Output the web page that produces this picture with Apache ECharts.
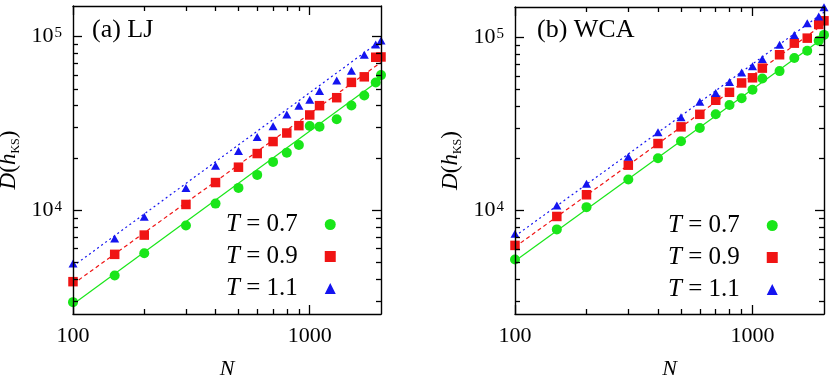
<!DOCTYPE html>
<html>
<head>
<meta charset="utf-8">
<script src="https://cdn.jsdelivr.net/npm/echarts@6/dist/echarts.min.js"></script>
<style>html,body{margin:0;padding:0;background:#fff}#c{width:830px;height:376px}</style>
</head>
<body>
<div id="c"></div>
<script>
// ---- data ----
const N = [100,150,200,300,400,500,600,700,800,900,1000,1100,1300,1500,1700,1900,2000];
const seriesNames = ['T = 0.7','T = 0.9','T = 1.1'];
const ljT07 = [2950,4200,5640,8160,10900,13430,15960,18960,21440,23720,30530,30270,33350,40100,45800,54400,59970];
const ljT09 = [3870,5560,7180,10780,14420,17670,21180,24830,27820,30670,35340,39980,44440,54440,58620,76000,76300];
const ljT11 = [4930,6870,9160,13430,18000,21900,26350,30420,35500,39980,43300,48550,55900,63500,78500,89900,94800];
const wcaT07 = [5210,7770,10450,15100,20050,25100,29980,35950,40740,44500,49900,57980,63900,76000,83800,95700,103500];
const wcaT09 = [6280,9230,12320,18270,24370,30420,35950,43350,48200,54580,58460,66500,79430,92700,99100,118900,124800];
const wcaT11 = [7330,10690,14260,20420,28300,34520,42540,47750,55210,62800,68100,75000,90800,103500,121000,132000,149600];
// power-law fit lines (end points)
const fitN = [100, 2000];
const ljFit07 = [2870, 57000];
const ljFit09 = [3750, 71000];
const ljFit11 = [4750, 95000];
const wcaFit07 = [5100, 100000];
const wcaFit09 = [6150, 120000];
const wcaFit11 = [7100, 140000];
const panelLabels = ['(a) LJ', '(b) WCA'];
const xRange = [100, 2000];
const yRange = [2520, 150000];
const xMajorTicks = [100, 1000];
const yMajorTicks = [10000, 100000];
const xMinorTicks = [200,300,400,500,600,700,800,900];
const yMinorTicks = [3000,4000,5000,6000,7000,8000,9000,20000,30000,40000,50000,60000,70000,80000,90000];

// ---- styles ----
const FONT = 'Liberation Serif';
const colors = ['#19e619', '#f01414', '#1414f0'];
const symbols = ['circle', 'rect', 'triangle'];
const symSizes = [10, 9.5, [9, 8]];
const lineTypes = ['solid', [4, 3], [2, 3]];

function zip(xs, ys) { return xs.map((x, i) => [x, ys[i]]); }

const grids = [
  { left: 73, top: 6, width: 308, height: 308, outerBoundsMode: 'none', containLabel: false },
  { left: 515, top: 7, width: 309, height: 307, outerBoundsMode: 'none', containLabel: false }
];

const xAxes = [], yAxes = [], series = [], titles = [], legends = [];
const axisLineStyle = { color: '#000', width: 1.4 };
const tickStyle = { color: '#000', width: 1.3 };

// per grid: 4 x axes (bottom major, top major, bottom minor, top minor), same for y
grids.forEach((g, gi) => {
  [['bottom', true], ['top', true], ['bottom', false], ['top', false]].forEach(([pos, major], j) => {
    const main = (j === 0);
    xAxes.push({
      type: 'log', logBase: 10, gridIndex: gi, position: pos,
      min: xRange[0], max: xRange[1],
      axisLine: { show: true, lineStyle: major ? axisLineStyle : { color: '#000', width: 0.01, opacity: 0 } },
      axisTick: { show: true, inside: true, length: major ? 9 : 5, customValues: major ? xMajorTicks : xMinorTicks, lineStyle: tickStyle },
      minorTick: { show: false },
      splitLine: { show: false }, minorSplitLine: { show: false },
      axisLabel: main ? {
        show: true, margin: 11, fontFamily: FONT, fontSize: 22, color: '#000',
        customValues: xMajorTicks,
        formatter: v => String(Math.round(v))
      } : { show: false },
      name: main ? 'N' : '',
      nameLocation: 'middle', nameGap: 44,
      nameTextStyle: { fontFamily: FONT, fontStyle: 'italic', fontSize: 22, color: '#000' },
      z: 10
    });
  });
  [['left', true], ['right', true], ['left', false], ['right', false]].forEach(([pos, major], j) => {
    const main = (j === 0);
    yAxes.push({
      type: 'log', logBase: 10, gridIndex: gi, position: pos,
      min: yRange[0], max: yRange[1],
      axisLine: { show: true, lineStyle: major ? axisLineStyle : { color: '#000', width: 0.01, opacity: 0 } },
      axisTick: { show: true, inside: true, length: major ? 9 : 5, customValues: major ? yMajorTicks : yMinorTicks, lineStyle: tickStyle },
      minorTick: { show: false },
      splitLine: { show: false }, minorSplitLine: { show: false },
      axisLabel: main ? {
        show: true, margin: 11, color: '#000', fontFamily: FONT,
        customValues: yMajorTicks,
        formatter: v => '{b|10}{s|' + Math.round(Math.log10(v)) + '}',
        rich: {
          b: { fontFamily: FONT, fontSize: 22, color: '#000', lineHeight: 22, verticalAlign: 'bottom' },
          s: { fontFamily: FONT, fontSize: 15, color: '#000', lineHeight: 22, verticalAlign: 'top', padding: [0, 0, 0, 1] }
        }
      } : { show: false },
      name: main ? '{it|D}{rm|(}{it|h}{sub|KS}{rm|)}' : '',
      nameLocation: 'middle', nameGap: 51, nameRotate: 90,
      nameTextStyle: {
        fontFamily: FONT,
        rich: {
          it: { fontFamily: FONT, fontStyle: 'italic', fontSize: 23, color: '#000', lineHeight: 26, verticalAlign: 'middle' },
          rm: { fontFamily: FONT, fontSize: 23, color: '#000', lineHeight: 26, verticalAlign: 'middle' },
          sub: { fontFamily: FONT, fontSize: 12, color: '#000', lineHeight: 26, verticalAlign: 'bottom' }
        }
      },
      z: 10
    });
  });
});

const panelData = [
  { vals: [ljT07, ljT09, ljT11], fits: [ljFit07, ljFit09, ljFit11] },
  { vals: [wcaT07, wcaT09, wcaT11], fits: [wcaFit07, wcaFit09, wcaFit11] }
];

panelData.forEach((p, gi) => {
  p.fits.forEach((f, k) => {
    series.push({
      type: 'line', name: 'fit' + gi + k, xAxisIndex: gi * 4, yAxisIndex: gi * 4,
      data: zip(fitN, f), showSymbol: false, symbol: 'none', silent: true,
      lineStyle: { color: colors[k], width: 1.2, type: lineTypes[k] },
      z: 2, animation: false
    });
  });
  p.vals.forEach((v, k) => {
    series.push({
      type: 'scatter', name: seriesNames[k], xAxisIndex: gi * 4, yAxisIndex: gi * 4,
      data: zip(N, v), symbol: symbols[k], symbolSize: symSizes[k],
      itemStyle: { color: colors[k], opacity: 1 }, clip: false, z: 3, animation: false
    });
  });
});

titles.push(
  { text: panelLabels[0], left: 92, top: 17, padding: 0, textStyle: { fontFamily: FONT, fontSize: 26, fontWeight: 'normal', color: '#000' } },
  { text: panelLabels[1], left: 537, top: 17, padding: 0, textStyle: { fontFamily: FONT, fontSize: 26, fontWeight: 'normal', color: '#000' } }
);

const legendBase = {
  orient: 'vertical', align: 'right', padding: 0, itemGap: 7,
  itemWidth: 11, itemHeight: 11, selectedMode: false,
  data: seriesNames,
  formatter: name => '{i|T}{r|' + name.slice(1) + '}',
  textStyle: {
    fontFamily: FONT,
    padding: [0, 22, 0, 0],
    rich: {
      i: { fontFamily: FONT, fontStyle: 'italic', fontSize: 25, color: '#000', lineHeight: 25 },
      r: { fontFamily: FONT, fontSize: 25, color: '#000', lineHeight: 25 }
    }
  }
};
legends.push(Object.assign({}, legendBase, { left: 226, top: 212 }));
legends.push(Object.assign({}, legendBase, { left: 668, top: 213 }));

const chart = echarts.init(document.getElementById('c'), null, { renderer: 'canvas' });
chart.setOption({
  animation: false,
  backgroundColor: '#fff',
  textStyle: { fontFamily: FONT },
  title: titles,
  legend: legends,
  grid: grids,
  xAxis: xAxes,
  yAxis: yAxes,
  series: series
});
</script>
</body>
</html>
